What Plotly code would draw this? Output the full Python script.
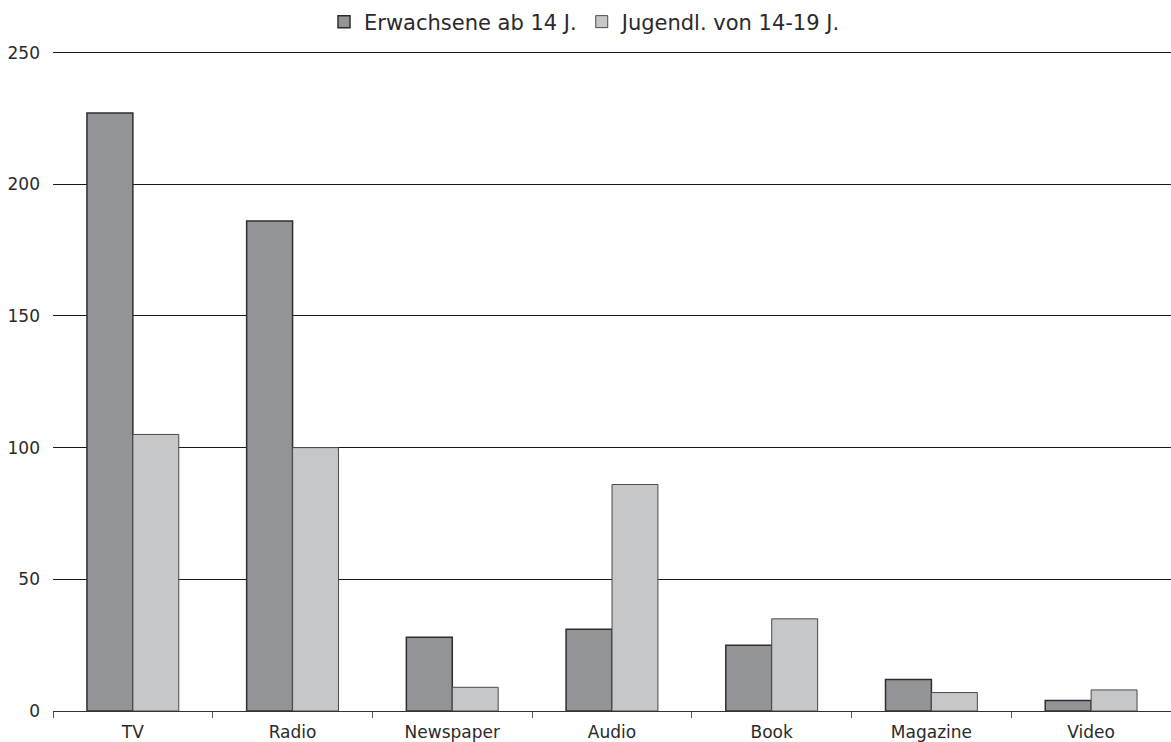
import plotly.graph_objects as go

categories = ["TV", "Radio", "Newspaper", "Audio", "Book", "Magazine", "Video"]
erwachsene = [227, 186, 28, 31, 25, 12, 4]
jugendliche = [105, 100, 9, 86, 35, 7, 8]
y_ticks = [0, 50, 100, 150, 200, 250]

fig = go.Figure()
fig.add_trace(go.Bar(
    x=categories, y=erwachsene, name="Erwachsene ab 14 J.",
    marker=dict(color="#939498", line=dict(color="#2e2e2e", width=1.5)),
))
fig.add_trace(go.Bar(
    x=categories, y=jugendliche, name="Jugendl. von 14-19 J.",
    marker=dict(color="#c6c7c9", line=dict(color="#4a4a4a", width=1)),
))

fig.update_layout(
    width=1171, height=742,
    margin=dict(l=53, r=0, t=48, b=31),
    paper_bgcolor="white", plot_bgcolor="white",
    barmode="group", bargap=0.425, bargroupgap=0,
    font=dict(family="DejaVu Sans", size=17, color="#2a2a2a"),
    showlegend=True,
    legend=dict(orientation="h", xref="container", x=0.5, xanchor="center",
                yref="container", y=1 - 22 / 742, yanchor="middle",
                font=dict(size=21, color="#2a2a2a"), itemwidth=30,
                traceorder="normal", itemclick=False),
    xaxis=dict(showgrid=False, showline=True, linecolor="#333333", linewidth=1,
               ticks="outside", tickson="boundaries", ticklen=6, tickcolor="#555555",
               ticklabelstandoff=6, tickfont=dict(size=17)),
    yaxis=dict(range=[0, 251.1], tickvals=y_ticks, showgrid=True, gridcolor="#1a1a1a",
               gridwidth=1, zeroline=False, showline=False, ticks="",
               ticklabelstandoff=12, tickfont=dict(size=17)),
)

fig.write_html("out.html")
